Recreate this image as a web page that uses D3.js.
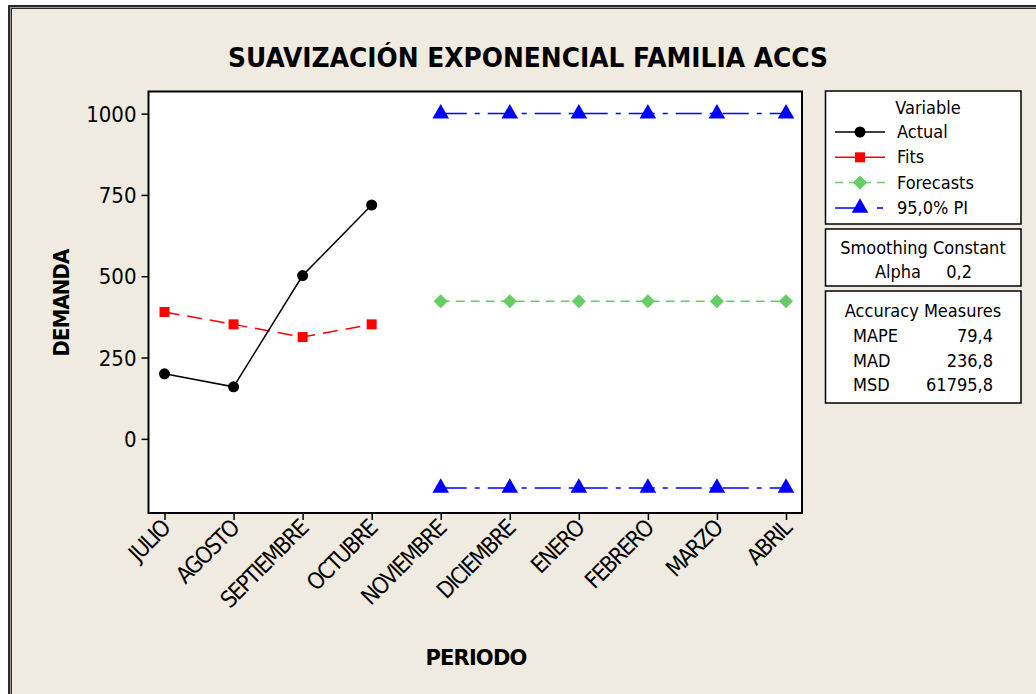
<!DOCTYPE html>
<html><head><meta charset="utf-8">
<script src="https://cdn.jsdelivr.net/npm/d3@7"></script>
<style>
html,body{margin:0;padding:0;background:#fff;}
svg{display:block;}
text{font-family:"DejaVu Sans Condensed","DejaVu Sans",sans-serif;font-stretch:condensed;fill:#000;}
</style></head>
<body>
<script>
const periods = ["JULIO","AGOSTO","SEPTIEMBRE","OCTUBRE","NOVIEMBRE","DICIEMBRE","ENERO","FEBRERO","MARZO","ABRIL"];
const actualPeriods = ["JULIO","AGOSTO","SEPTIEMBRE","OCTUBRE"];
const actualValues = [200, 160, 502, 719];
const fitsValues = [390, 352, 313, 352];
const forecastPeriods = ["NOVIEMBRE","DICIEMBRE","ENERO","FEBRERO","MARZO","ABRIL"];
const forecastValues = [423, 423, 423, 423, 423, 423];
const piUpper = [1000, 1000, 1000, 1000, 1000, 1000];
const piLower = [-151, -151, -151, -151, -151, -151];
const yTicks = [0, 250, 500, 750, 1000];
const legendItems = ["Actual","Fits","Forecasts","95,0% PI"];
const accuracyLabels = ["MAPE","MAD","MSD"];
const accuracyValues = ["79,4","236,8","61795,8"];
const alphaValue = "0,2";

const W = 1036, H = 694;
const svg = d3.select("body").append("svg").attr("width", W).attr("height", H);

// background & frame
svg.append("rect").attr("x",0).attr("y",0).attr("width",W).attr("height",H).attr("fill","#fff");
svg.append("rect").attr("x",8).attr("y",5).attr("width",W+20).attr("height",H+20).attr("fill","#2a2a2a");
svg.append("rect").attr("x",10).attr("y",7).attr("width",W+20).attr("height",H+20).attr("fill","#9a9a9a");
svg.append("rect").attr("x",11).attr("y",8).attr("width",W+20).attr("height",H+20).attr("fill","#2a2a2a");
svg.append("rect").attr("x",12).attr("y",9).attr("width",W+20).attr("height",H+20).attr("fill","#EFEBE1");

const L = 148.5, T = 91.5, R = 802, B = 513;
const x = d3.scalePoint().domain(periods).range([164.5, 786]);
const y = d3.scaleLinear().domain([-228, 1068]).range([B, T]);

// plot area
svg.append("rect").attr("x",L).attr("y",T).attr("width",R-L).attr("height",B-T)
  .attr("fill","#fff");

// axes
const yAxis = svg.append("g").attr("transform",`translate(${L},0)`)
  .call(d3.axisLeft(y).tickValues(yTicks).tickSize(7).tickPadding(5).tickFormat(d3.format("d")));
yAxis.select(".domain").remove();
yAxis.selectAll("line").attr("stroke","#000").attr("stroke-width",1.5);
yAxis.selectAll("text").style("font-size","22px").attr("dy","0.35em")
  .style("font-family","'DejaVu Sans Condensed','DejaVu Sans',sans-serif");

const xAxis = svg.append("g").attr("transform",`translate(0,${B})`)
  .call(d3.axisBottom(x).tickSize(7).tickPadding(0));
xAxis.select(".domain").remove();
xAxis.selectAll("line").attr("stroke","#000").attr("stroke-width",1.5);
xAxis.selectAll("text")
  .style("font-size","23px").style("letter-spacing","-1.8px")
  .attr("text-anchor","end").attr("dy",null).attr("y",0)
  .attr("transform","translate(6,17) rotate(-45)");

// frame of plot
svg.append("rect").attr("x",L).attr("y",T).attr("width",R-L).attr("height",B-T)
  .attr("fill","none").attr("stroke","#000").attr("stroke-width",2);

// lines
const line = d3.line().x(d=>x(d.p)).y(d=>y(d.v));
const actual = actualPeriods.map((p,i)=>({p, v:actualValues[i]}));
const fits = actualPeriods.map((p,i)=>({p, v:fitsValues[i]}));
const fc = forecastPeriods.map((p,i)=>({p, v:forecastValues[i]}));
const up = forecastPeriods.map((p,i)=>({p, v:piUpper[i]}));
const lo = forecastPeriods.map((p,i)=>({p, v:piLower[i]}));

const piDash = "26,8,5,8";
[up, lo].forEach(s=>{
  svg.append("path").datum(s).attr("d",line).attr("fill","none")
    .attr("stroke","#0000ff").attr("stroke-width",1.5).attr("stroke-dasharray",piDash);
});
svg.append("path").datum(fc).attr("d",line).attr("fill","none")
  .attr("stroke","#66cc66").attr("stroke-width",1.5).attr("stroke-dasharray","9,6");
svg.append("path").datum(fits).attr("d",line).attr("fill","none")
  .attr("stroke","#ff0000").attr("stroke-width",1.5).attr("stroke-dasharray","15,8");
svg.append("path").datum(actual).attr("d",line).attr("fill","none")
  .attr("stroke","#000").attr("stroke-width",1.5);

// markers
const sym = (type,size)=>d3.symbol().type(type).size(size)();
function markers(data, type, size, color, rot){
  svg.append("g").selectAll("path").data(data).join("path")
    .attr("d", sym(type,size))
    .attr("transform", d=>`translate(${x(d.p)},${y(d.v)}) rotate(${rot||0})`)
    .attr("fill", color);
}
markers(actual, d3.symbolCircle, 95, "#000");
markers(fits, d3.symbolSquare, 100, "#ff0000");
markers(fc, d3.symbolSquare, 100, "#66cc66", 45);
markers(up, d3.symbolTriangle, 120, "#0000ff");
markers(lo, d3.symbolTriangle, 120, "#0000ff");

// title
svg.append("text").attr("x",528).attr("y",67).attr("text-anchor","middle")
  .style("font-size","26px").style("font-weight","bold")
  .style("font-family","'DejaVu Sans','DejaVu Sans Condensed',sans-serif").style("font-stretch","normal")
  .attr("textLength",600).attr("lengthAdjust","spacingAndGlyphs")
  .text("SUAVIZACIÓN EXPONENCIAL FAMILIA ACCS");

// axis titles
svg.append("text").attr("transform","translate(69,303) rotate(-90)").attr("text-anchor","middle")
  .style("font-size","21px").style("font-weight","bold").style("letter-spacing","-0.8px")
  .attr("textLength",107).attr("lengthAdjust","spacingAndGlyphs")
  .text("DEMANDA");
svg.append("text").attr("x",476).attr("y",665).attr("text-anchor","middle")
  .style("font-size","22px").style("font-weight","bold").style("letter-spacing","-0.8px")
  .attr("textLength",101).attr("lengthAdjust","spacingAndGlyphs")
  .text("PERIODO");

// legend box 1
const LX = 825.5, LW = 195.5;
function box(y0,h){
  svg.append("rect").attr("x",LX).attr("y",y0).attr("width",LW).attr("height",h)
    .attr("fill","#fff").attr("stroke","#000").attr("stroke-width",1.5);
}
box(91, 133);
const fs = "18px";
svg.append("text").attr("x",928).attr("y",114).attr("text-anchor","middle").style("font-size",fs).text("Variable");
const legStyles = [
  {c:"#000", dash:null, t:d3.symbolCircle, s:95, r:0},
  {c:"#ff0000", dash:null, t:d3.symbolSquare, s:100, r:0},
  {c:"#66cc66", dash:"8,6", t:d3.symbolSquare, s:100, r:45},
  {c:"#0000ff", dash:"30,12,6,20", t:d3.symbolTriangle, s:120, r:0}
];
legendItems.forEach((name,i)=>{
  const yy = 132 + i*25.3;
  const st = legStyles[i];
  svg.append("line").attr("x1",835).attr("x2",885).attr("y1",yy).attr("y2",yy)
    .attr("stroke",st.c).attr("stroke-width",1.5).attr("stroke-dasharray",st.dash);
  svg.append("path").attr("d",sym(st.t,st.s)).attr("transform",`translate(860,${yy}) rotate(${st.r})`).attr("fill",st.c);
  svg.append("text").attr("x",897).attr("y",yy+6).style("font-size",fs).text(name);
});

// box 2
box(229, 57);
svg.append("text").attr("x",923).attr("y",254).attr("text-anchor","middle").style("font-size",fs).text("Smoothing Constant");
svg.append("text").attr("x",875).attr("y",278).style("font-size",fs).text("Alpha");
svg.append("text").attr("x",972).attr("y",278).attr("text-anchor","end").style("font-size",fs).text(alphaValue);

// box 3
box(291, 112);
svg.append("text").attr("x",923).attr("y",317).attr("text-anchor","middle").style("font-size",fs).text("Accuracy Measures");
accuracyLabels.forEach((lab,i)=>{
  const yy = 342 + i*24.5;
  svg.append("text").attr("x",853).attr("y",yy).style("font-size",fs).text(lab);
  svg.append("text").attr("x",993).attr("y",yy).attr("text-anchor","end").style("font-size",fs).text(accuracyValues[i]);
});
</script>
</body></html>
